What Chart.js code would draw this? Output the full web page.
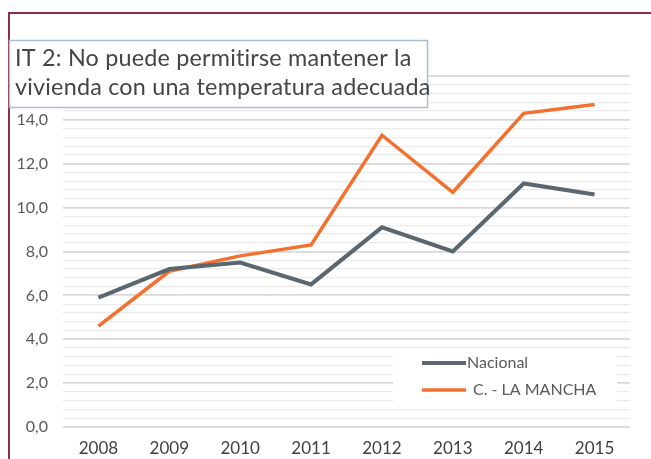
<!DOCTYPE html>
<html>
<head>
<meta charset="utf-8">
<script src="https://cdn.jsdelivr.net/npm/chart.js@4.4.1/dist/chart.umd.min.js"></script>
<style>
  html, body { margin: 0; padding: 0; background: #ffffff; }
  #wrap { width: 651px; height: 459px; position: relative; }
</style>
</head>
<body>
<div id="wrap"><canvas id="chart" width="651" height="459"></canvas></div>
<script>
var years = ['2008', '2009', '2010', '2011', '2012', '2013', '2014', '2015'];
var nacional = [5.9, 7.2, 7.5, 6.5, 9.1, 8.0, 11.1, 10.6];
var laMancha = [4.6, 7.1, 7.8, 8.3, 13.3, 10.7, 14.3, 14.7];
var seriesNames = ['Nacional', 'C. - LA MANCHA'];
var titleLines = ['IT 2: No puede permitirse mantener la', 'vivienda con una temperatura adecuada'];

var FONT = 'Lato, "Open Sans", sans-serif';

function isMajor(v) {
    return Math.abs(v / 2 - Math.round(v / 2)) < 1e-6;
}

// frame, title box and in-plot legend
var decorations = {
    id: 'decorations',
    beforeDraw: function (chart) {
        var ctx = chart.ctx;
        ctx.save();
        ctx.fillStyle = '#ffffff';
        ctx.fillRect(0, 0, chart.width, chart.height);
        ctx.strokeStyle = '#8c2d4f';
        ctx.lineWidth = 2;
        ctx.beginPath();
        ctx.moveTo(chart.width, 13);
        ctx.lineTo(9, 13);
        ctx.lineTo(9, chart.height);
        ctx.stroke();
        ctx.restore();
    },
    beforeDatasetsDraw: function (chart) {
        var ctx = chart.ctx;
        var sets = chart.data.datasets;
        ctx.save();
        ctx.fillStyle = '#ffffff';
        ctx.fillRect(393, 353, 224, 55);
        ctx.font = '16px ' + FONT;
        ctx.textBaseline = 'middle';
        ctx.fillStyle = '#595959';
        for (var i = 0; i < sets.length; i++) {
            var y = 363 + i * 27;
            ctx.strokeStyle = sets[i].borderColor;
            ctx.lineWidth = sets[i].borderWidth;
            ctx.beginPath();
            ctx.moveTo(422, y);
            ctx.lineTo(466, y);
            ctx.stroke();
            ctx.fillText(sets[i].label, i === 0 ? 467 : 473, y);
        }
        ctx.restore();
    },
    afterDraw: function (chart) {
        var ctx = chart.ctx;
        ctx.save();
        ctx.fillStyle = '#ffffff';
        ctx.fillRect(9, 40, 419, 68);
        ctx.strokeStyle = '#a9bfcf';
        ctx.lineWidth = 1.5;
        ctx.strokeRect(9.5, 40.5, 418, 67);
        ctx.letterSpacing = '0.2px';
        var size = 22;
        ctx.font = size + 'px ' + FONT;
        var w = ctx.measureText(titleLines[0]).width;
        size = size * 397 / w;
        ctx.font = size.toFixed(2) + 'px ' + FONT;
        ctx.fillStyle = '#454545';
        ctx.textBaseline = 'alphabetic';
        ctx.fillText(titleLines[0], 15, 66);
        ctx.fillText(titleLines[1], 15, 95);
        ctx.restore();
    }
};

new Chart(document.getElementById('chart'), {
    type: 'line',
    data: {
        labels: years,
        datasets: [{
            label: seriesNames[0],
            data: nacional,
            borderColor: '#5a6670',
            borderWidth: 4,
            pointRadius: 0,
            tension: 0,
            fill: false
        }, {
            label: seriesNames[1],
            data: laMancha,
            borderColor: '#f4702f',
            borderWidth: 3.5,
            pointRadius: 0,
            tension: 0,
            fill: false
        }]
    },
    options: {
        responsive: false,
        animation: false,
        layout: { padding: { left: 0, top: 76, right: 21, bottom: 0 } },
        plugins: {
            legend: { display: false },
            title: { display: false },
            tooltip: { enabled: false }
        },
        scales: {
            x: {
                offset: true,
                grid: { display: false, drawTicks: false },
                border: { display: false },
                ticks: {
                    color: '#404040',
                    font: { family: FONT, size: 17 },
                    padding: 11,
                    maxRotation: 0
                },
                afterFit: function (scale) { scale.height = 32; }
            },
            y: {
                min: 0,
                max: 16,
                grid: {
                    drawTicks: false,
                    color: function (c) { return isMajor(c.tick.value) ? '#d8d8d8' : '#ebebeb'; },
                    lineWidth: function (c) { return isMajor(c.tick.value) ? 1.8 : 1.3; }
                },
                border: { display: false },
                ticks: {
                    stepSize: 0.4,
                    autoSkip: false,
                    color: '#595959',
                    font: { family: FONT, size: 16 },
                    padding: 15,
                    callback: function (v) {
                        return isMajor(v) && v < 15.9 ? v.toFixed(1).replace('.', ',') : '';
                    }
                },
                afterFit: function (scale) { scale.width = 63; }
            }
        }
    },
    plugins: [decorations]
});
</script>
</body>
</html>
